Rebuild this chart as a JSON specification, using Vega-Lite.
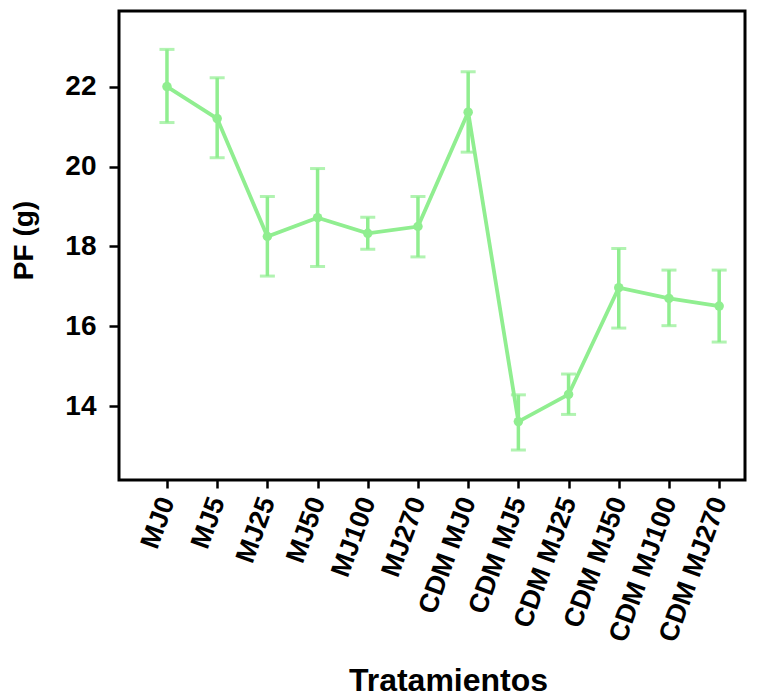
{
  "$schema": "https://vega.github.io/schema/vega-lite/v6.json",
  "width": 626,
  "height": 469,
  "autosize": {"type": "none"},
  "padding": {"left": 119, "top": 11, "right": 15, "bottom": 216},
  "background": "white",
  "config": {
    "view": {"stroke": "black", "strokeWidth": 3},
    "font": "Liberation Sans",
    "axis": {
      "domain": false,
      "grid": false,
      "tickColor": "black",
      "tickWidth": 2.5,
      "labelColor": "black",
      "titleColor": "black",
      "labelFont": "Liberation Sans",
      "titleFont": "Liberation Sans",
      "labelFontWeight": "bold",
      "titleFontWeight": "bold"
    }
  },
  "data": {
    "values": [
      {"t": "MJ0", "m": 22.0, "lo": 21.1, "hi": 22.93},
      {"t": "MJ5", "m": 21.2, "lo": 20.22, "hi": 22.22},
      {"t": "MJ25", "m": 18.25, "lo": 17.26, "hi": 19.25},
      {"t": "MJ50", "m": 18.72, "lo": 17.5, "hi": 19.95},
      {"t": "MJ100", "m": 18.33, "lo": 17.93, "hi": 18.73},
      {"t": "MJ270", "m": 18.5, "lo": 17.74, "hi": 19.25},
      {"t": "CDM MJ0", "m": 21.36, "lo": 20.36, "hi": 22.37},
      {"t": "CDM MJ5", "m": 13.62, "lo": 12.91, "hi": 14.29},
      {"t": "CDM MJ25", "m": 14.3, "lo": 13.8, "hi": 14.81},
      {"t": "CDM MJ50", "m": 16.97, "lo": 15.96, "hi": 17.95},
      {"t": "CDM MJ100", "m": 16.7, "lo": 16.02, "hi": 17.41},
      {"t": "CDM MJ270", "m": 16.51, "lo": 15.61, "hi": 17.41}
    ]
  },
  "encoding": {
    "x": {
      "field": "t",
      "type": "nominal",
      "sort": null,
      "scale": {"type": "point", "padding": 0.735, "align": 0.65},
      "axis": {
        "title": "Tratamientos",
        "labelAngle": -70,
        "labelFontSize": 27,
        "labelPadding": 10,
        "tickSize": 8,
        "titleFontSize": 32,
        "titleBaseline": "alphabetic",
        "titleAlign": "center",
        "titleX": 329,
        "titleY": 210
      }
    }
  },
  "layer": [
    {
      "mark": {"type": "rule", "color": "#90EE90", "strokeWidth": 3.5},
      "encoding": {
        "y": {"field": "lo", "type": "quantitative"},
        "y2": {"field": "hi"}
      }
    },
    {
      "mark": {"type": "tick", "color": "#90EE90", "thickness": 3, "size": 15, "orient": "horizontal"},
      "encoding": {"y": {"field": "lo", "type": "quantitative"}}
    },
    {
      "mark": {"type": "tick", "color": "#90EE90", "thickness": 3, "size": 15, "orient": "horizontal"},
      "encoding": {"y": {"field": "hi", "type": "quantitative"}}
    },
    {
      "mark": {"type": "line", "color": "#90EE90", "strokeWidth": 3.8},
      "encoding": {
        "y": {
          "field": "m",
          "type": "quantitative",
          "scale": {"domain": [12.16, 23.89], "nice": false, "zero": false},
          "axis": {
            "title": "PF (g)",
            "values": [14, 16, 18, 20, 22],
            "labelFontSize": 28,
            "labelPadding": 13,
            "tickSize": 10,
            "titleFontSize": 28,
            "titleX": -95,
            "titleY": 229,
            "titleAngle": -90,
            "titleBaseline": "middle",
            "titleAlign": "center"
          }
        }
      }
    },
    {
      "mark": {"type": "point", "filled": true, "color": "#90EE90", "size": 90, "opacity": 1},
      "encoding": {"y": {"field": "m", "type": "quantitative"}}
    }
  ]
}
